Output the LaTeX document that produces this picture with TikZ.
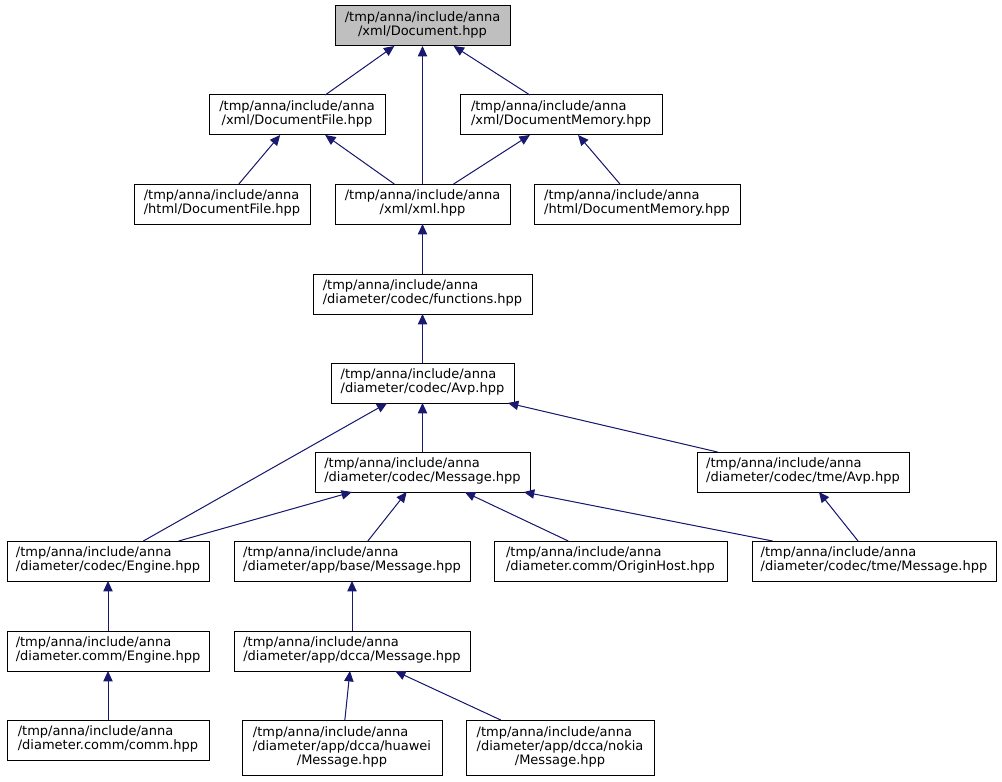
\documentclass[tikz,border=0pt]{standalone}
\usepackage{fontspec}
\setmainfont{DejaVu Sans}
\usetikzlibrary{arrows.meta}
\definecolor{edgeblue}{HTML}{191970}
\definecolor{rootgray}{HTML}{BFBFBF}
\newcommand\twol[2]{\begin{tabular}{@{}l@{}}#1\\\multicolumn{1}{@{}c@{}}{#2}\end{tabular}}
\newcommand\threel[3]{\begin{tabular}{@{}l@{}}#1\\#2\\\multicolumn{1}{@{}c@{}}{#3}\end{tabular}}
\newcommand\dnode[7][]{\node[box,#1,minimum width={(#5-#3)*0.75pt},minimum height={(#6-#4)*0.75pt}] (#2) at ({(#3+#5)/2},{(#4+#6)/2}) {#7};}
\tikzset{
  box/.style={draw=black,line width=0.75pt,fill=white,inner sep=0pt,outer sep=0pt,
    font=\fontsize{9.75pt}{10.6pt}\selectfont},
  rootbox/.style={fill=rootgray},
  edge/.style={draw=edgeblue,line width=0.75pt,
    -{Triangle[length=7.8pt,width=7pt]},fill=edgeblue}
}
\begin{document}
\begin{tikzpicture}[x=0.75pt,y=-0.75pt]
\useasboundingbox (0,0) rectangle (1002,781);
\fill[white] (0,0) rectangle (1002,781);
\def\pre{/tmp/anna/include/anna}
\dnode[rootbox]{doc}{335}{6}{510}{46}{\twol{\pre}{/xml/Document.hpp}}
\dnode{dfile}{209}{95}{385}{135}{\twol{\pre}{/xml/DocumentFile.hpp}}
\dnode{dmem}{460}{95}{662}{135}{\twol{\pre}{/xml/DocumentMemory.hpp}}
\dnode{hfile}{134}{184}{310}{224}{\twol{\pre}{/html/DocumentFile.hpp}}
\dnode{xml}{335}{184}{510}{224}{\twol{\pre}{/xml/xml.hpp}}
\dnode{hmem}{534}{184}{740}{224}{\twol{\pre}{/html/DocumentMemory.hpp}}
\dnode{func}{313}{274}{532}{314}{\twol{\pre}{/diameter/codec/functions.hpp}}
\dnode{avp}{331}{363}{514}{403}{\twol{\pre}{/diameter/codec/Avp.hpp}}
\dnode{msg}{315}{452}{530}{492}{\twol{\pre}{/diameter/codec/Message.hpp}}
\dnode{tavp}{697}{452}{909}{492}{\twol{\pre}{/diameter/codec/tme/Avp.hpp}}
\dnode{ceng}{7}{541}{209}{581}{\twol{\pre}{/diameter/codec/Engine.hpp}}
\dnode{base}{234}{541}{470}{581}{\twol{\pre}{/diameter/app/base/Message.hpp}}
\dnode{orig}{494}{541}{727}{581}{\twol{\pre}{/diameter.comm/OriginHost.hpp}}
\dnode{tmsg}{752}{541}{996}{581}{\twol{\pre}{/diameter/codec/tme/Message.hpp}}
\dnode{meng}{7}{631}{209}{671}{\twol{\pre}{/diameter.comm/Engine.hpp}}
\dnode{dcca}{234}{631}{470}{671}{\twol{\pre}{/diameter/app/dcca/Message.hpp}}
\dnode{comm}{7}{720}{209}{760}{\twol{\pre}{/diameter.comm/comm.hpp}}
\dnode{huawei}{242}{720}{442}{775}{\threel{\pre}{/diameter/app/dcca/huawei}{/Message.hpp}}
\dnode{nokia}{466}{720}{654}{775}{\threel{\pre}{/diameter/app/dcca/nokia}{/Message.hpp}}
\draw[edge] (dfile) -- (doc);
\draw[edge] (xml) -- (doc);
\draw[edge] (dmem) -- (doc);
\draw[edge] (hfile) -- (dfile);
\draw[edge] (xml) -- (dfile);
\draw[edge] (xml) -- (dmem);
\draw[edge] (hmem) -- (dmem);
\draw[edge] (func) -- (xml);
\draw[edge] (avp) -- (func);
\draw[edge] (msg) -- (avp);
\draw[edge] (ceng) -- (avp);
\draw[edge] (tavp) -- (avp);
\draw[edge] (ceng) -- (msg);
\draw[edge] (base) -- (msg);
\draw[edge] (orig) -- (msg);
\draw[edge] (tmsg) -- (msg);
\draw[edge] (tmsg) -- (tavp);
\draw[edge] (meng) -- (ceng);
\draw[edge] (dcca) -- (base);
\draw[edge] (comm) -- (meng);
\draw[edge] (huawei) -- (dcca);
\draw[edge] (nokia) -- (dcca);
\end{tikzpicture}
\end{document}
